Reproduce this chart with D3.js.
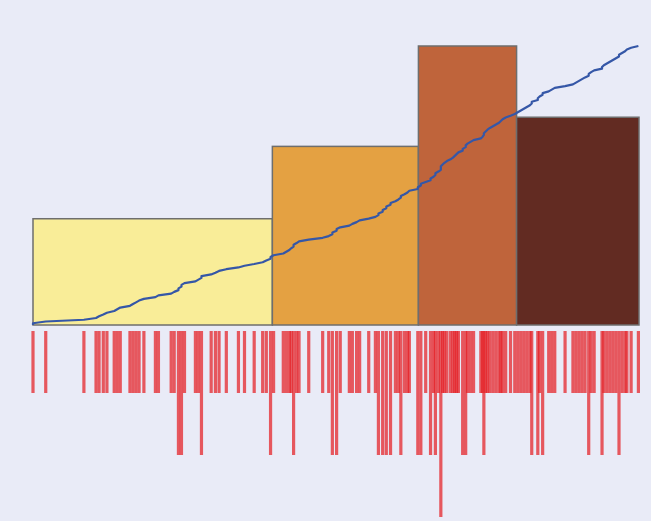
<!DOCTYPE html>
<html>
<head>
<meta charset="utf-8">
<script src="https://cdn.jsdelivr.net/npm/d3@7"></script>
<style>
    body { margin: 0; background: #e9ebf7; }
</style>
</head>
<body>
<script>
const lowQuarter = [0, 2.1, 8.4, 10.4, 10.9, 11.6, 12.2, 13.4, 13.9, 14.4, 16.0, 16.5, 17.0, 17.5, 18.3,
    20.2, 20.7, 22.8, 23.3, 24.0, 24.0, 24.5, 24.5, 25.0, 26.8, 27.3, 27.8, 27.8, 29.4, 30.1,
    30.7, 31.9, 33.9, 34.9, 36.5, 37.9, 38.5, 39.2, 39.2];
const secondQuarter = [39.7, 41.3, 41.8, 42.3, 42.6, 43.0, 43.0, 43.5, 43.9, 45.5, 47.8, 48.8, 49.4, 49.4,
    50.1, 50.1, 50.7, 52.2, 52.7, 53.4, 53.9, 55.4, 56.5, 57.0, 57.0, 57.7, 57.7, 58.3, 58.3,
    59.0, 59.0, 59.8, 60.3, 60.7, 60.7, 61.3, 61.8, 62.1, 63.5, 63.5];
const thirdQuarter = [64.0, 64.0, 64.8, 65.6, 65.6, 66.1, 66.4, 66.4, 66.9, 67.3, 67.3, 67.3, 67.6,
    67.9, 68.3, 68.9, 69.3, 69.6, 69.9, 70.2, 70.9, 70.9, 71.4, 71.4, 71.7, 72.2, 72.7, 73.9,
    74.2, 74.4, 74.4, 74.7, 75.0, 75.4, 75.9, 76.4, 76.9, 77.2, 77.5, 78.0, 78.8, 79.5];
const topQuarter = [80.0, 80.5, 81.0, 81.5, 82.0, 82.3, 82.3, 83.3, 83.3, 83.6, 84.1, 84.1, 85.1, 85.6,
    86.1, 87.8, 89.1, 89.6, 90.1, 90.6, 91.1, 91.7, 91.7, 92.1, 92.6, 93.9, 93.9, 94.2, 94.7,
    95.2, 95.7, 96.2, 96.7, 96.7, 97.2, 97.7, 98.0, 98.7, 99.9];

// bin edges of the histogram (quartile breaks)
const breaks = [0, 39.5, 63.6, 79.8, 100];
const binColors = ["#f9ed98", "#e4a142", "#bf643b", "#622b22"];

function main(){
    const width = 651;
    const height = 521;

    const svg = d3.select("body").append("svg")
        .attr("width", width)
        .attr("height", height);

    svg.append("rect")
        .attr("width", width)
        .attr("height", height)
        .attr("fill", "#e9ebf7");

    const values = lowQuarter.concat(secondQuarter, thirdQuarter, topQuarter).sort(d3.ascending);
    const n = values.length;

    const xScale = d3.scaleLinear().domain([breaks[0], breaks[breaks.length - 1]]).range([33, 639]);

    //histogram with unequal bins, bar height = density
    const bins = d3.bin()
        .domain([breaks[0], breaks[breaks.length - 1]])
        .thresholds(breaks.slice(1, -1))(values);
    bins.forEach(b => b.density = b.length / (n * (b.x1 - b.x0)));

    const yBar = d3.scaleLinear().domain([0, d3.max(bins, b => b.density)]).range([325, 46]);
    const yCum = d3.scaleLinear().domain([0, 1]).range([325, 46]);

    svg.selectAll(".bar")
        .data(bins)
        .enter().append("rect")
        .attr("class", "bar")
        .attr("x", d => xScale(d.x0))
        .attr("y", d => yBar(d.density))
        .attr("width", d => xScale(d.x1) - xScale(d.x0))
        .attr("height", d => yBar(0) - yBar(d.density))
        .attr("fill", (d, i) => binColors[i])
        .attr("stroke", "#6e6e6e")
        .attr("stroke-width", 1.5);

    //cumulative share of the values
    const cum = [[values[0], 0]].concat(values.map((v, i) => [v, (i + 1) / n]));
    const line = d3.line()
        .x(d => xScale(d[0]))
        .y(d => yCum(d[1]));

    svg.append("path")
        .datum(cum)
        .attr("fill", "none")
        .attr("stroke", "#3557a7")
        .attr("stroke-width", 2.2)
        .attr("stroke-linejoin", "round")
        .attr("d", line);

    //rug, repeated values go one level lower
    const seen = new Map();
    const rug = values.map(v => {
        const k = seen.get(v) || 0;
        seen.set(v, k + 1);
        return {v: v, level: k};
    });

    const rugTop = 331;
    const rugLen = 62;

    svg.selectAll(".rug")
        .data(rug)
        .enter().append("line")
        .attr("class", "rug")
        .attr("x1", d => xScale(d.v))
        .attr("x2", d => xScale(d.v))
        .attr("y1", d => rugTop + d.level * rugLen)
        .attr("y2", d => rugTop + (d.level + 1) * rugLen)
        .attr("stroke", "#e41d22")
        .attr("stroke-width", 3.2)
        .attr("stroke-opacity", 0.72);
}
main();
</script>
</body>
</html>
